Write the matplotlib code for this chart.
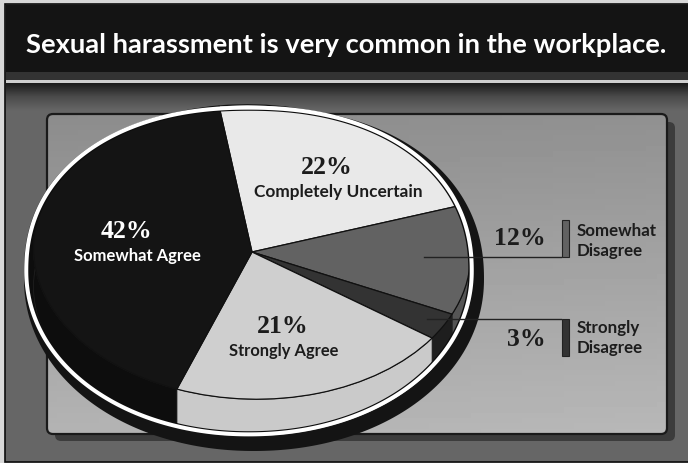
import numpy as np
import matplotlib
matplotlib.use("Agg")
import matplotlib.pyplot as plt
from matplotlib.colors import LinearSegmentedColormap
from matplotlib.patches import Rectangle, FancyBboxPatch, Polygon
from matplotlib.transforms import Affine2D

# Umfragewerte
categories = ["Completely Uncertain", "Somewhat Disagree", "Strongly Disagree",
              "Strongly Agree", "Somewhat Agree"]
values = [22, 12, 3, 21, 42]
face_colors = ["#e9e9e9", "#626262", "#333333", "#cfcfcf", "#141414"]
side_colors = ["#bdbdbd", "#555555", "#1e1e1e", "#cacaca", "#0d0d0d"]
title = "Sexual harassment is very common in the workplace."

W, H = 688, 464
fig = plt.figure(figsize=(W / 100, H / 100), dpi=100, facecolor="#d8d8d8")
ax = fig.add_axes([0, 0, 1, 1])

# Tortengeometrie in Pixeln
center = (252, 253)
top_face = Affine2D.from_values(-33, -146, 216, -19, center[0], center[1])
depth = 38


def rim_outline(scale=1.0, cx=249, cy=272, sx=225, sy=165):
    # Rand der Torte, oben etwas eckiger als unten
    t = np.linspace(0, 2 * np.pi, 360)
    c, s = np.cos(t), np.sin(t)
    n = np.where(s < 0, 2.2, 2.05)
    r = (np.abs(c) ** n + np.abs(s) ** n) ** (-1 / n)
    return np.column_stack([cx + sx * scale * r * c, cy + sy * scale * r * s])


wedges, _ = ax.pie(values, colors=face_colors, startangle=0, counterclock=True, radius=1,
                   wedgeprops=dict(edgecolor="#111111", linewidth=0.9))
ax.set_aspect("auto")
ax.axis("off")

# Hintergrund
ax.add_patch(Rectangle((5, 5), W, H - 6.5, fc="#666666", ec="#0d0d0d", lw=1.2, zorder=0))
ax.add_patch(Rectangle((6, 6), W, 67, fc="#141414", ec="none", zorder=1))
ax.add_patch(Rectangle((6, 73), W, 8, fc="#333333", ec="none", zorder=1))
ax.add_patch(Rectangle((6, 80.5), W, 3.5, fc="#cfcfcf", ec="none", zorder=1))
fade = np.linspace(0, 1, 30)[:, None]
ax.imshow(fade, extent=(6, W, 112, 84),
          cmap=LinearSegmentedColormap.from_list("fade", ["#1c1c1c", "#4c4c4c", "#666666"]),
          aspect="auto", zorder=1)

# Schattenfeld und Feld mit Verlauf
ax.add_patch(FancyBboxPatch((55, 123), 620, 319, boxstyle="round,pad=0,rounding_size=6",
                            fc="#3c3c3c", ec="none", zorder=2))
panel = FancyBboxPatch((47, 115), 620, 320, boxstyle="round,pad=0,rounding_size=6",
                       fc="none", ec="#1a1a1a", lw=1.6, zorder=3)
ax.add_patch(panel)
yy, xx = np.mgrid[0:1:60j, 0:1:60j]
img = ax.imshow(0.55 + 0.17 * (yy * 0.9 + xx * 0.1), extent=(47, 667, 435, 115), cmap="gray",
                vmin=0, vmax=1, aspect="auto", zorder=2.5)
img.set_clip_path(panel)
ax.set_xlim(0, W)
ax.set_ylim(H, 0)

# Schlagschatten, Rand, Seitenwand, Oberseite
ax.add_patch(Polygon(rim_outline(cx=254, cy=280, sx=230, sy=172), fc="#141414", ec="none", zorder=4))
clip = Polygon(rim_outline(), fc="#0d0d0d", ec="none", zorder=4.5)
ax.add_patch(clip)

cum = np.cumsum([0] + values) / sum(values) * 2 * np.pi
for i in range(len(values)):
    t = np.linspace(cum[i], cum[i + 1], 60)
    pts = top_face.transform(np.column_stack([np.cos(t), np.sin(t)]))
    low = pts + [0, depth]
    side = Polygon(np.vstack([pts, low[::-1]]), closed=True, fc=side_colors[i], ec="#222222",
                   lw=0.5, zorder=5)
    ax.add_patch(side)
    side.set_clip_path(clip)

for w in wedges:
    w.set_transform(top_face + ax.transData)
    w.set_zorder(6)
    w.set_clip_path(clip)

# weisser Rand um die Torte
ax.add_patch(Polygon(rim_outline(0.985), fc="none", ec="#0d0d0d", lw=3.3, zorder=7))
ax.add_patch(Polygon(rim_outline(0.99), fc="none", ec="white", lw=2.9, zorder=7.5))

# Beschriftungen
label_font = ["Lato"]
num_font = ["Liberation Serif"]
dark = "#1c1c1c"
pie_labels = [(327, 174, dark, 338, 197, categories[0], 12.4),
              (126, 238, "white", 137.5, 261, categories[4], 12),
              (283, 333, dark, 284, 356, categories[3], 11.9)]
for px, py, col, lx, ly, name, lfs in pie_labels:
    pct = values[categories.index(name)]
    ax.text(px, py, f"{pct}%", ha="center", va="baseline", fontsize=18.5, color=col,
            family=num_font, weight="bold", zorder=9)
    ax.text(lx, ly, name, ha="center", va="baseline", fontsize=lfs, color=col,
            family=label_font, weight="bold", zorder=9)

ax.text(346.5, 53, title, ha="center", va="baseline", color="white", fontsize=19.7,
        family=label_font, weight="bold", zorder=9)

# Legende rechts mit Fuehrungslinien
ax.plot([424, 561], [258, 258], color="#222222", lw=1, zorder=8)
ax.plot([427, 561], [320, 320], color="#222222", lw=1, zorder=8)
ax.add_patch(Rectangle((561.5, 221), 7, 37, fc=face_colors[1], ec="#222222", lw=0.8, zorder=8))
ax.add_patch(Rectangle((561.5, 320), 7, 37, fc=face_colors[2], ec="#222222", lw=0.8, zorder=8))
ax.text(546, 245, f"{values[1]}%", ha="right", va="baseline", fontsize=18.5, color=dark,
        family=num_font, weight="bold", zorder=9)
ax.text(546, 346, f"{values[2]}%", ha="right", va="baseline", fontsize=18.5, color=dark,
        family=num_font, weight="bold", zorder=9)
for word, base in [("Somewhat", 236), ("Disagree", 256), ("Strongly", 333), ("Disagree", 353)]:
    ax.text(577, base, word, ha="left", va="baseline", fontsize=12.2, color=dark,
            family=label_font, weight="bold", zorder=9)

fig.savefig("out.png", dpi=100, facecolor=fig.get_facecolor())
